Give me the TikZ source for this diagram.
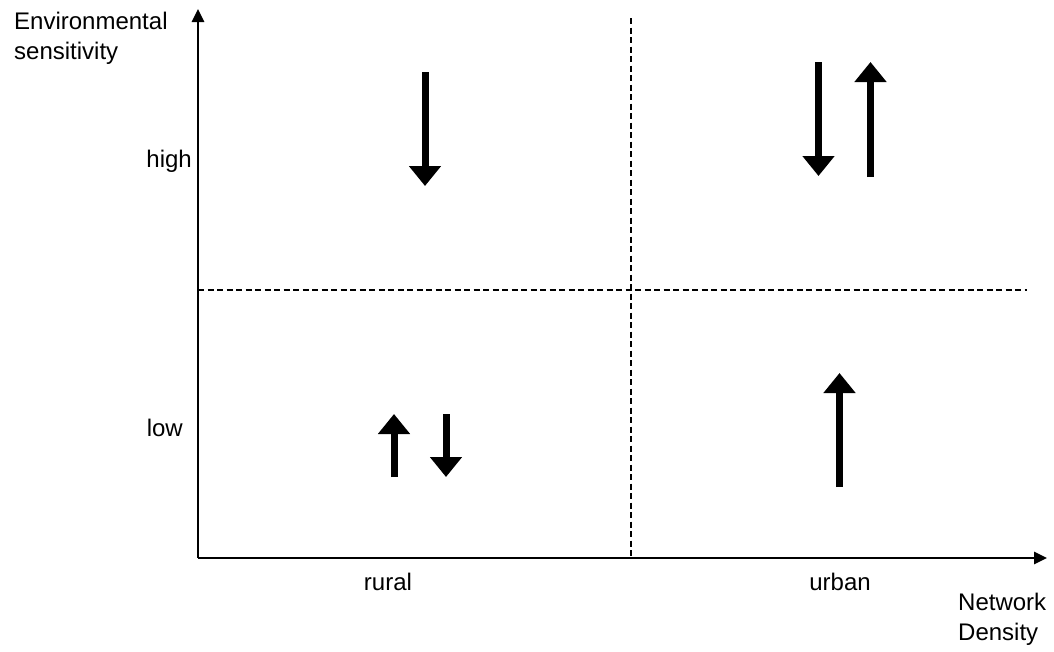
\documentclass[tikz,border=0pt]{standalone}
\usepackage{fontspec}
\setmainfont{Liberation Sans}
\usetikzlibrary{arrows.meta}
\begin{document}
\begin{tikzpicture}[x=1pt,y=-1pt,
  axis/.style={line width=2.6pt,-{Triangle[width=12pt,length=13pt]}},
  divider/.style={line width=1.4pt,dash pattern=on 6pt off 3.5pt},
  bigarrow/.style={line width=7pt,-{Triangle[width=31pt,length=20pt]}},
  lbl/.style={font=\fontsize{24}{29}\selectfont,inner sep=0pt},
  lbltwo/.style={font=\fontsize{24}{30}\selectfont,inner sep=0pt,align=left,anchor=base west}]
\useasboundingbox (0,0) rectangle (1054,651);
% axes
\coordinate (O) at (198,558);
\coordinate (ytop) at (198,9);
\coordinate (xend) at (1047,558);
\draw[axis] (O) -- (ytop);
\draw[axis] (O) -- (xend);
% dividers
\coordinate (vtop) at (631,18);
\coordinate (vbot) at (631,558);
\coordinate (hl) at (198,290);
\coordinate (hr) at (1027,290);
\draw[divider] (vtop) -- (vbot);
\draw[divider] (hl) -- (hr);
% labels
\node[lbltwo] (ylab) at (14,59) {Environmental\\sensitivity};
\node[lbltwo] (xlab) at (958,640) {Network\\Density};
\node[lbl,anchor=base east] (high) at (192,167) {high};
\node[lbl,anchor=base east] (low) at (183,436) {low};
\node[lbl,anchor=base] (rural) at (388,590) {rural};
\node[lbl,anchor=base] (urban) at (840,590) {urban};
% arrows
\coordinate (a1s) at (425,72);   \coordinate (a1e) at (425,186);
\coordinate (a2s) at (818.5,62); \coordinate (a2e) at (818.5,176);
\coordinate (a3s) at (870.5,177);\coordinate (a3e) at (870.5,62);
\coordinate (a4s) at (394,477);  \coordinate (a4e) at (394,414);
\coordinate (a5s) at (446,414);  \coordinate (a5e) at (446,477);
\coordinate (a6s) at (839.5,487);\coordinate (a6e) at (839.5,373);
\draw[bigarrow] (a1s) -- (a1e);
\draw[bigarrow] (a2s) -- (a2e);
\draw[bigarrow] (a3s) -- (a3e);
\draw[bigarrow] (a4s) -- (a4e);
\draw[bigarrow] (a5s) -- (a5e);
\draw[bigarrow] (a6s) -- (a6e);
\end{tikzpicture}
\end{document}
